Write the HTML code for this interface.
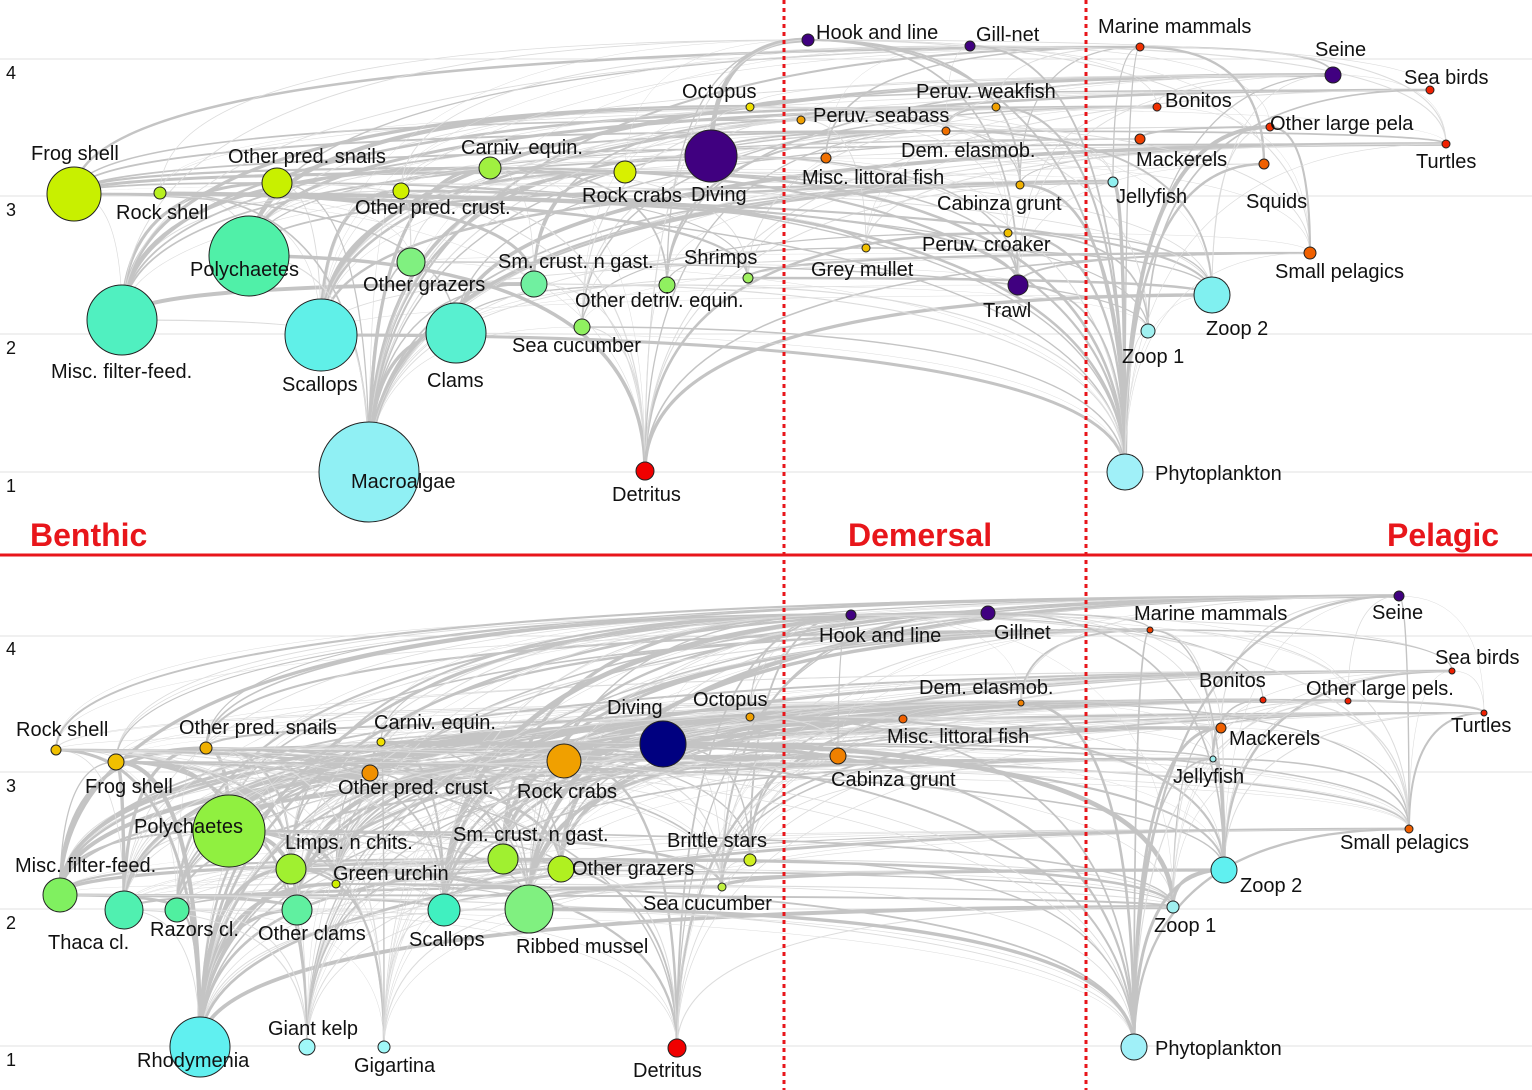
<!DOCTYPE html>
<html><head><meta charset="utf-8">
<style>
html,body{margin:0;padding:0;background:#fff;}
svg{display:block;}
text{font-family:"Liberation Sans",Arial,sans-serif;font-size:20px;fill:#111;}
.ax{font-size:18px;}
.reg{font-size:32px;font-weight:bold;fill:#e8161b;}
</style></head>
<body>
<svg id="s" width="1532" height="1090" viewBox="0 0 1532 1090" xmlns="http://www.w3.org/2000/svg">
<g stroke="#e2e2e2" stroke-width="1">
<line x1="0" y1="59" x2="1532" y2="59"/><line x1="0" y1="196" x2="1532" y2="196"/>
<line x1="0" y1="334" x2="1532" y2="334"/><line x1="0" y1="472" x2="1532" y2="472"/>
<line x1="0" y1="636" x2="1532" y2="636"/><line x1="0" y1="772" x2="1532" y2="772"/>
<line x1="0" y1="909" x2="1532" y2="909"/><line x1="0" y1="1046" x2="1532" y2="1046"/>
</g>
<g class="ax">
<text class="ax" x="6" y="79">4</text><text class="ax" x="6" y="216">3</text>
<text class="ax" x="6" y="354">2</text><text class="ax" x="6" y="492">1</text>
<text class="ax" x="6" y="655">4</text><text class="ax" x="6" y="792">3</text>
<text class="ax" x="6" y="929">2</text><text class="ax" x="6" y="1066">1</text>
</g>
<g id="edges" fill="none" stroke="#c4c4c4" stroke-linecap="round"></g>
<g id="nodes" stroke="#222" stroke-width="1"></g>
<line x1="0" y1="555" x2="1532" y2="555" stroke="#e8161b" stroke-width="3"/>
<line x1="784" y1="0" x2="784" y2="1090" stroke="#e8161b" stroke-width="3" stroke-dasharray="4,4"/>
<line x1="1086" y1="0" x2="1086" y2="1090" stroke="#e8161b" stroke-width="3" stroke-dasharray="4,4"/>
<text class="reg" x="30" y="546">Benthic</text>
<text class="reg" x="848" y="546">Demersal</text>
<text class="reg" x="1387" y="546">Pelagic</text>
<g>
<text x="31" y="160">Frog shell</text><text x="116" y="219">Rock shell</text>
<text x="228" y="163">Other pred. snails</text><text x="190" y="276">Polychaetes</text>
<text x="51" y="378">Misc. filter-feed.</text><text x="282" y="391">Scallops</text>
<text x="427" y="387">Clams</text><text x="351" y="488">Macroalgae</text>
<text x="363" y="291">Other grazers</text><text x="355" y="214">Other pred. crust.</text>
<text x="461" y="154">Carniv. equin.</text><text x="498" y="268">Sm. crust. n gast.</text>
<text x="512" y="352">Sea cucumber</text><text x="575" y="307">Other detriv. equin.</text>
<text x="684" y="264">Shrimps</text><text x="582" y="202">Rock crabs</text>
<text x="691" y="201">Diving</text><text x="682" y="98">Octopus</text>
<text x="612" y="501">Detritus</text><text x="816" y="39">Hook and line</text>
<text x="976" y="41">Gill-net</text><text x="813" y="122">Peruv. seabass</text>
<text x="916" y="98">Peruv. weakfish</text><text x="901" y="157">Dem. elasmob.</text>
<text x="802" y="184">Misc. littoral fish</text><text x="937" y="210">Cabinza grunt</text>
<text x="922" y="251">Peruv. croaker</text><text x="811" y="276">Grey mullet</text>
<text x="983" y="317">Trawl</text><text x="1098" y="33">Marine mammals</text>
<text x="1315" y="56">Seine</text><text x="1404" y="84">Sea birds</text>
<text x="1165" y="107">Bonitos</text><text x="1270" y="130">Other large pela</text>
<text x="1136" y="166">Mackerels</text><text x="1416" y="168">Turtles</text>
<text x="1116" y="203">Jellyfish</text><text x="1246" y="208">Squids</text>
<text x="1275" y="278">Small pelagics</text><text x="1206" y="335">Zoop 2</text>
<text x="1122" y="363">Zoop 1</text><text x="1155" y="480">Phytoplankton</text>

<text x="16" y="736">Rock shell</text><text x="85" y="793">Frog shell</text>
<text x="179" y="734">Other pred. snails</text><text x="374" y="729">Carniv. equin.</text>
<text x="607" y="714">Diving</text><text x="693" y="706">Octopus</text>
<text x="338" y="794">Other pred. crust.</text><text x="517" y="798">Rock crabs</text>
<text x="134" y="833">Polychaetes</text><text x="285" y="849">Limps. n chits.</text>
<text x="15" y="872">Misc. filter-feed.</text><text x="333" y="880">Green urchin</text>
<text x="453" y="841">Sm. crust. n gast.</text><text x="572" y="875">Other grazers</text>
<text x="667" y="847">Brittle stars</text><text x="643" y="910">Sea cucumber</text>
<text x="48" y="949">Thaca cl.</text><text x="150" y="936">Razors cl.</text>
<text x="258" y="940">Other clams</text><text x="409" y="946">Scallops</text>
<text x="516" y="953">Ribbed mussel</text><text x="137" y="1067">Rhodymenia</text>
<text x="268" y="1035">Giant kelp</text><text x="354" y="1072">Gigartina</text>
<text x="633" y="1077">Detritus</text><text x="819" y="642">Hook and line</text>
<text x="994" y="639">Gillnet</text><text x="919" y="694">Dem. elasmob.</text>
<text x="887" y="743">Misc. littoral fish</text><text x="831" y="786">Cabinza grunt</text>
<text x="1134" y="620">Marine mammals</text><text x="1372" y="619">Seine</text>
<text x="1435" y="664">Sea birds</text><text x="1199" y="687">Bonitos</text>
<text x="1306" y="695">Other large pels.</text><text x="1451" y="732">Turtles</text>
<text x="1229" y="745">Mackerels</text><text x="1173" y="783">Jellyfish</text>
<text x="1340" y="849">Small pelagics</text><text x="1240" y="892">Zoop 2</text>
<text x="1154" y="932">Zoop 1</text><text x="1155" y="1055">Phytoplankton</text>
</g>
</svg>
<script>
var T=[[74,194,27,"#c8f000"],[160,193,6,"#b8f020"],[277,183,15,"#c8f000"],[249,256,40,"#50f0a8"],[122,320,35,"#50f0c0"],[321,335,36,"#60f0e8"],[456,333,30,"#58f0d0"],[369,472,50,"#90f0f4"],[411,262,14,"#80f080"],[401,191,8,"#d0f000"],[490,168,11,"#a0f040"],[534,284,13,"#70f0a0"],[582,327,8,"#90f060"],[667,285,8,"#90f060"],[748,278,5,"#a0f060"],[625,172,11,"#d8f000"],[711,156,26,"#400080"],[750,107,4,"#f0e000"],[645,471,9,"#f00000"],[808,40,6,"#400080"],[970,46,5,"#400080"],[801,120,4,"#f0a000"],[996,107,4,"#f0a000"],[946,131,4,"#f07000"],[826,158,5,"#f07000"],[1020,185,4,"#f0b000"],[1008,233,4,"#f0c000"],[866,248,4,"#f0c000"],[1018,285,10,"#400080"],[1140,47,4,"#f03000"],[1333,75,8,"#400080"],[1430,90,4,"#f02000"],[1157,107,4,"#f03000"],[1270,127,4,"#f03000"],[1140,139,5,"#f04000"],[1446,144,4,"#f02000"],[1113,182,5,"#90f0f0"],[1264,164,5,"#f06000"],[1310,253,6,"#f06000"],[1212,295,18,"#80f0f0"],[1148,331,7,"#a0f0f0"],[1125,472,18,"#a0f0f8"]];
var B=[[56,750,5,"#f0c000"],[116,762,8,"#f0c000"],[206,748,6,"#f0b000"],[381,742,4,"#f0e000"],[663,744,23,"#000080"],[750,717,4,"#f0a000"],[370,773,8,"#f09000"],[564,761,17,"#f0a000"],[229,831,36,"#90f040"],[291,869,15,"#a0f030"],[60,895,17,"#80f060"],[336,884,4,"#d0f000"],[503,859,15,"#a0f030"],[561,869,13,"#b0f020"],[750,860,6,"#d0f020"],[722,887,4,"#c0f040"],[124,910,19,"#50f0b0"],[177,910,12,"#50f0a0"],[297,910,15,"#60f0a0"],[444,910,16,"#40f0c0"],[529,909,24,"#80f080"],[200,1047,30,"#60f0f0"],[307,1047,8,"#a0f8f8"],[384,1047,6,"#a0f8f8"],[677,1048,9,"#f00000"],[851,615,5,"#400080"],[988,613,7,"#400080"],[1021,703,3,"#f08000"],[903,719,4,"#f06000"],[838,756,8,"#f08000"],[1150,630,3,"#f04000"],[1399,596,5,"#400080"],[1452,671,3,"#f02000"],[1263,700,3,"#f02000"],[1348,701,3,"#f02000"],[1484,713,3,"#f02000"],[1221,728,5,"#f06000"],[1213,759,3,"#a0f0f0"],[1409,829,4,"#f06000"],[1224,870,13,"#60f0f0"],[1173,907,6,"#a0f0f0"],[1134,1047,13,"#a0f0f8"]];
var NS="http://www.w3.org/2000/svg",E=document.getElementById("edges"),N=document.getElementById("nodes");
var seed=7;function rnd(){seed=(seed*16807)%2147483647;return seed/2147483647;}
function draw(A){
 for(var i=0;i<A.length;i++)for(var j=0;j<A.length;j++){
  var a=A[i],b=A[j];if(b[1]>=a[1]-8)continue;
  var p=0.22+(a[2]>15?0.18:0)+(a[1]>440?0.3:0);if(rnd()>p)continue;
  var w=0.5+rnd()*rnd()*(a[2]>12||b[2]>12?4.5:2.2);
  var d="M"+a[0]+","+a[1]+" Q"+a[0]+","+b[1]+" "+b[0]+","+b[1];
  var e=document.createElementNS(NS,"path");e.setAttribute("d",d);e.setAttribute("stroke-width",w.toFixed(1));
  if(w<1.2)e.setAttribute("stroke","#dcdcdc");E.appendChild(e);}
 A.forEach(function(n){var c=document.createElementNS(NS,"circle");c.setAttribute("cx",n[0]);c.setAttribute("cy",n[1]);c.setAttribute("r",n[2]);c.setAttribute("fill",n[3]);N.appendChild(c);});
}
draw(T);draw(B);
</script>
</body></html>
